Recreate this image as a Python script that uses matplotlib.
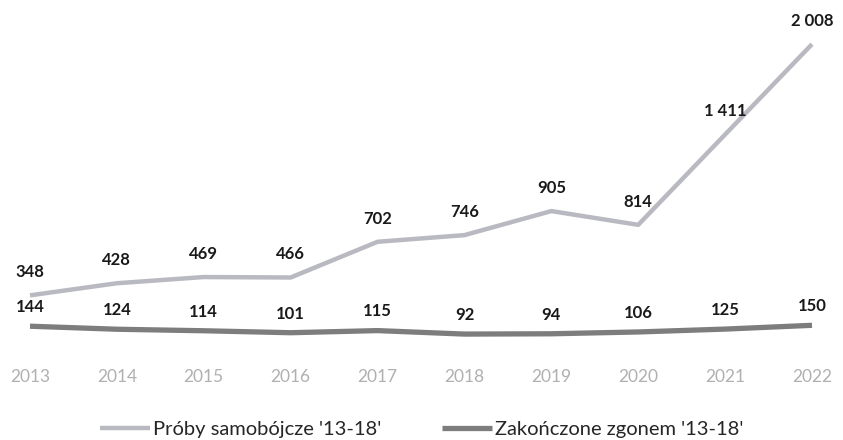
import matplotlib
matplotlib.use("Agg")
import matplotlib.pyplot as plt

years = ["2013", "2014", "2015", "2016", "2017", "2018", "2019", "2020", "2021", "2022"]
proby = [348, 428, 469, 466, 702, 746, 905, 814, 1411, 2008]
zgony = [144, 124, 114, 101, 115, 92, 94, 106, 125, 150]
label_proby = "Próby samobójcze '13-18'"
label_zgony = "Zakończone zgonem '13-18'"

def fmt(v):
    return f"{v:,}".replace(",", " ")

plt.rcParams['font.family'] = ['Lato', 'DejaVu Sans']

fig = plt.figure(figsize=(8.43, 4.40), dpi=100)
ax = fig.add_axes([0, 92/440, 1, 348/440])
x = list(range(len(years)))

l1, = ax.plot(x, proby, color="#b9b9c1", lw=3.2, solid_capstyle="butt", label=label_proby)
l2, = ax.plot(x, zgony, color="#7d7d7d", lw=3.8, solid_capstyle="butt", label=label_zgony)

for xi, v in zip(x, proby):
    ax.annotate(fmt(v), (xi, v), xytext=(0, 11), textcoords="offset points",
                ha="center", va="bottom", fontsize=12, fontweight="bold", color="#1a1a1a")
for xi, v in zip(x, zgony):
    ax.annotate(fmt(v), (xi, v), xytext=(0, 8), textcoords="offset points",
                ha="center", va="bottom", fontsize=12, fontweight="bold", color="#1a1a1a")

ax.set_xlim(-30/86.9, 9 + 31/86.9)
ax.set_ylim(0, 2300)
ax.set_xticks(x)
ax.set_xticklabels(years, fontsize=12.5, color="#b0b0b0")
ax.tick_params(axis="x", length=0, pad=15)
ax.set_yticks([])
for s in ax.spines.values():
    s.set_visible(False)
ax.patch.set_alpha(0)

fig.legend(handles=[l1, l2], loc="center", bbox_to_anchor=(0.5, 1 - 429/440),
           ncol=2, frameon=False, fontsize=14.5, handlelength=2.5, handletextpad=0.15,
           columnspacing=3.0, labelcolor="#262626")

fig.savefig("out.png", dpi=100, facecolor="white")
